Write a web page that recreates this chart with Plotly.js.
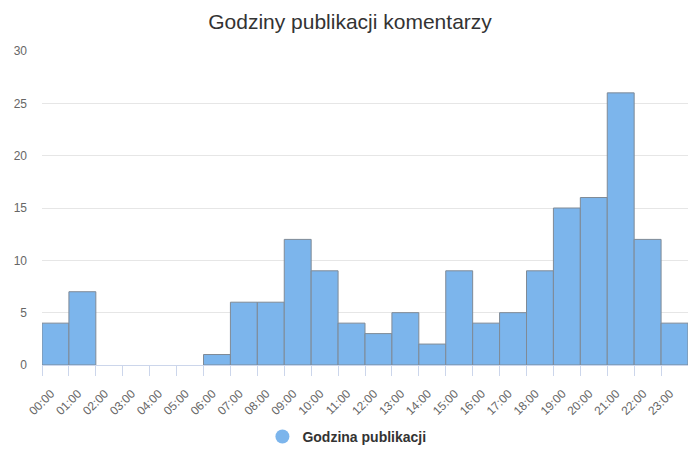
<!DOCTYPE html>
<html><head><meta charset="utf-8">
<script src="https://cdn.plot.ly/plotly-3.0.1.min.js"></script>
<style>html,body{margin:0;padding:0;background:#fff}#chart{width:700px;height:467px}</style>
</head><body><div id="chart"></div>
<script>
const hours = ["00:00","01:00","02:00","03:00","04:00","05:00","06:00","07:00","08:00","09:00","10:00","11:00","12:00","13:00","14:00","15:00","16:00","17:00","18:00","19:00","20:00","21:00","22:00","23:00"];
const counts = [4,7,0,0,0,0,1,6,6,12,9,4,3,5,2,9,4,5,9,15,16,26,12,4];
const seriesName = "Godzina publikacji";
const titleText = "Godziny publikacji komentarzy";

const idx = hours.map((h,i)=>i);
const font = "Liberation Sans, Arial, sans-serif";
const data = [
  {type:"bar", x: idx, y: counts, offset:0, width:1, showlegend:false,
   marker:{color:"#7cb5ec", line:{color:"#7f8a96", width: counts.map(v => v > 0 ? 1 : 0)}}, hoverinfo:"y"},
  {type:"scatter", mode:"markers", x:[null], y:[null], name: seriesName,
   marker:{color:"#7cb5ec", size:14, symbol:"circle"}}
];
const layout = {
  width:700, height:467,
  margin:{l:42, r:12, t:51, b:102},
  paper_bgcolor:"#fff", plot_bgcolor:"#fff",
  font:{family:font, color:"#666", size:12},
  title:{text:titleText, x:0.5, xanchor:"center", y:0.953, yanchor:"middle",
         font:{family:font, size:21, color:"#333"}},
  xaxis:{range:[0,24], tickmode:"array", tickvals: idx, ticktext: hours,
         tickangle:-45, ticks:"outside", ticklen:10, tickcolor:"#ccd6eb",
         showline:true, linecolor:"#ccd6eb", showgrid:false, zeroline:false,
         ticklabelshift:9, ticklabelstandoff:6,
         tickfont:{size:12, color:"#666"}, fixedrange:true},
  yaxis:{range:[0,30], dtick:5, showgrid:true, gridcolor:"#e6e6e6",
         zeroline:false, showline:false, ticks:"", ticklabelstandoff:14,
         tickfont:{size:12, color:"#666"}, fixedrange:true},
  legend:{orientation:"h", x:0.472, xanchor:"center", y:-0.229, yanchor:"middle",
          font:{size:14, color:"#333", family:font, weight:"bold"}},
  bargap:0
};
Plotly.newPlot("chart", data, layout, {displayModeBar:false, staticPlot:true});
</script></body></html>
